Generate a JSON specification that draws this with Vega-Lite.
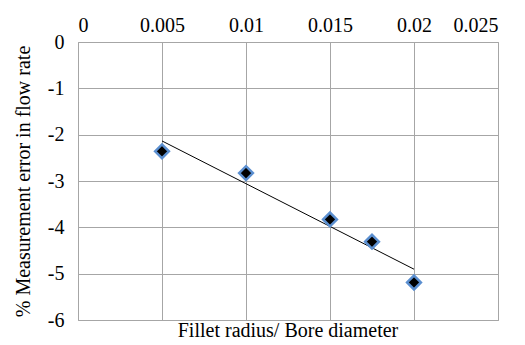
{
  "$schema": "https://vega.github.io/schema/vega-lite/v6.json",
  "autosize": "none",
  "width": 420,
  "height": 278,
  "padding": {"left": 78, "top": 42, "right": 27, "bottom": 25},
  "background": "white",
  "config": {
    "font": "Liberation Serif",
    "view": {"stroke": "#a6a6a6", "strokeWidth": 1},
    "axis": {"labelFont": "Liberation Serif", "titleFont": "Liberation Serif", "labelColor": "#000", "titleColor": "#000", "gridColor": "#a6a6a6", "gridOpacity": 1, "ticks": false, "domain": false}
  },
  "title": {"text": "Fillet radius/ Bore diameter", "orient": "bottom", "font": "Liberation Serif", "fontSize": 20, "fontWeight": "normal", "color": "#000", "offset": 0, "baseline": "top", "dy": -9},
  "data": {"values": [
    {"x": 0.005, "y": -2.36},
    {"x": 0.01, "y": -2.83},
    {"x": 0.015, "y": -3.83},
    {"x": 0.0175, "y": -4.31},
    {"x": 0.02, "y": -5.19}
  ]},
  "layer": [
    {
      "transform": [{"regression": "y", "on": "x"}],
      "mark": {"type": "line", "color": "#000", "strokeWidth": 1},
      "encoding": {
        "x": {"field": "x", "type": "quantitative", "scale": {"domain": [0, 0.025], "nice": false}},
        "y": {"field": "y", "type": "quantitative", "scale": {"domain": [-6, 0], "nice": false}}
      }
    },
    {
      "mark": {"type": "point", "shape": "diamond", "filled": false, "fill": "#000", "stroke": "#5b8fd0", "strokeWidth": 2.5, "size": 190, "opacity": 1},
      "encoding": {
        "x": {"field": "x", "type": "quantitative", "scale": {"domain": [0, 0.025], "nice": false},
          "axis": {"orient": "top", "title": null, "values": [0, 0.005, 0.01, 0.015, 0.02, 0.025], "labelFontSize": 20, "labelPadding": 7, "labelExpr": "datum.value == 0 ? '0' : format(datum.value, '~g')"}},
        "y": {"field": "y", "type": "quantitative", "scale": {"domain": [-6, 0], "nice": false},
          "axis": {"title": "% Measurement error in flow rate", "values": [-6, -5, -4, -3, -2, -1, 0], "labelExpr": "datum.value == 0 ? '0' : '-' + format(-datum.value, 'd')", "labelFontSize": 20, "labelPadding": 14, "titleFontSize": 20, "titleFontWeight": "normal", "titlePadding": 14}}
      }
    }
  ]
}
